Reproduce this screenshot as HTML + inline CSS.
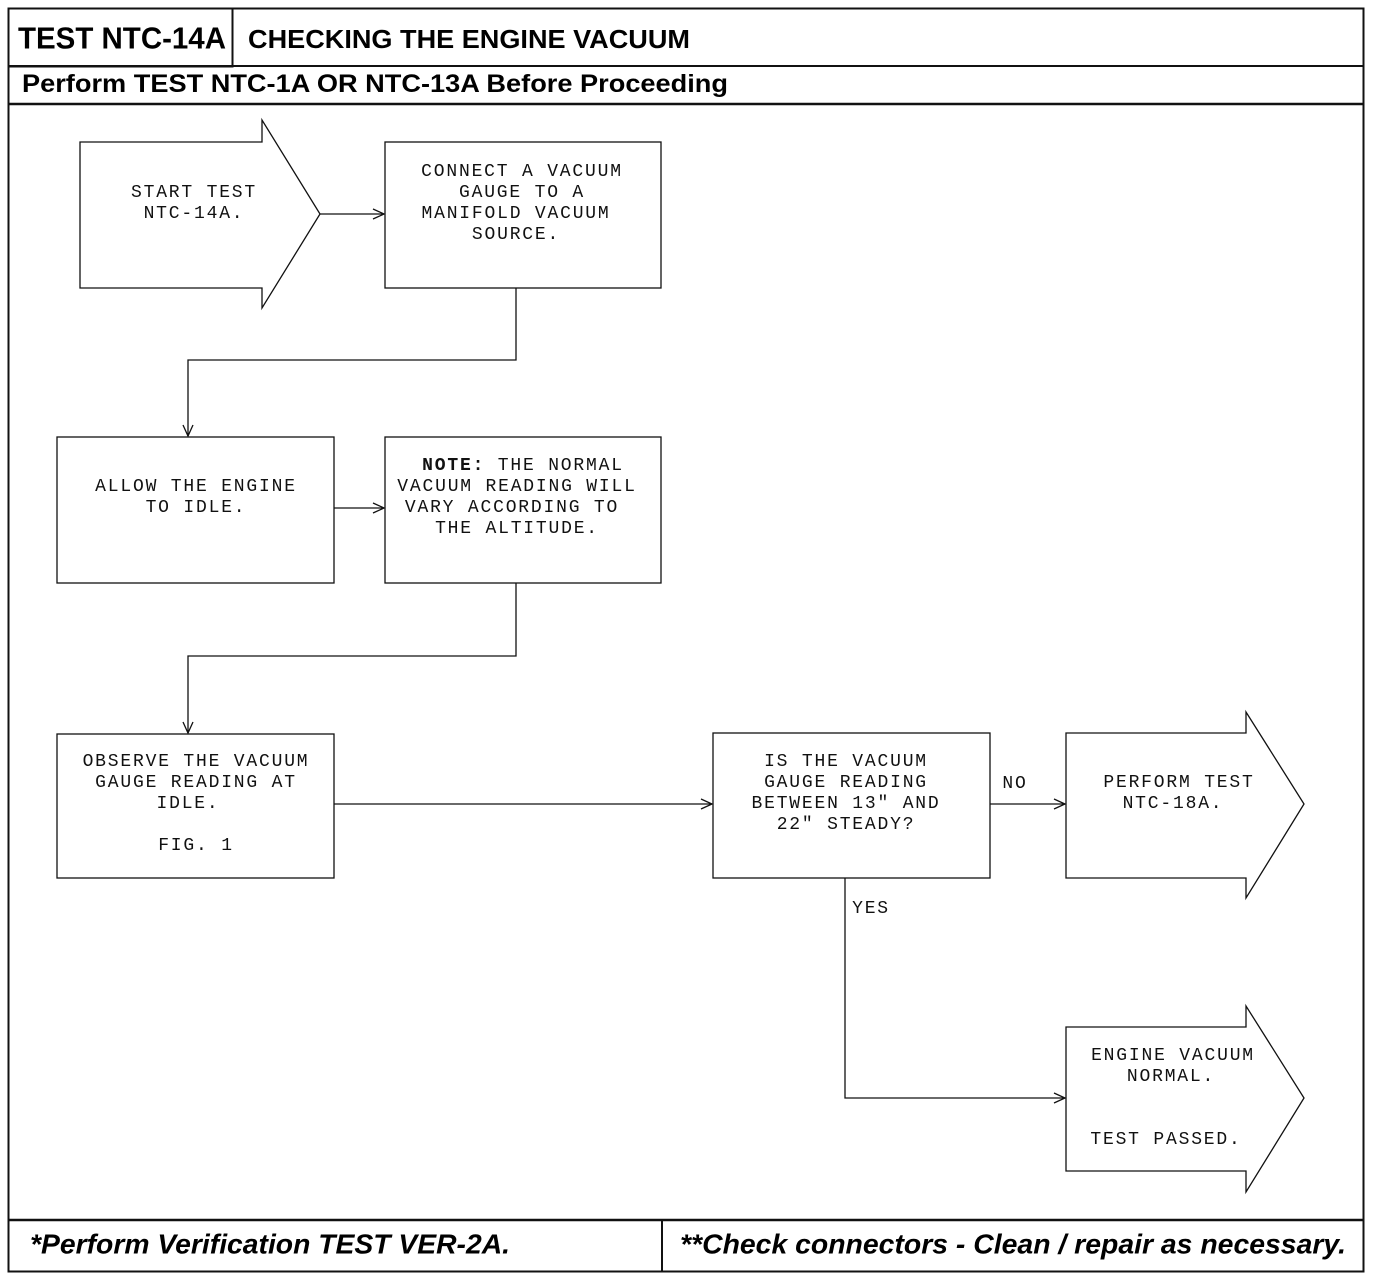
<!DOCTYPE html>
<html><head><meta charset="utf-8"><style>
html,body{margin:0;padding:0;background:#fff;}
svg{display:block}
.m{font-family:"Liberation Mono",monospace;font-size:18px;letter-spacing:1.8px;fill:#111;text-anchor:middle;dominant-baseline:central}
.h{font-family:"Liberation Sans",sans-serif;font-weight:bold;fill:#000;dominant-baseline:central}
</style></head><body>
<svg width="1376" height="1280" viewBox="0 0 1376 1280" xmlns="http://www.w3.org/2000/svg">
<defs><marker id="a" markerWidth="14" markerHeight="12" refX="12" refY="6" orient="auto" markerUnits="userSpaceOnUse"><path d="M1,1 L12,6 L1,11" fill="none" stroke="#111" stroke-width="1.3"/></marker></defs>
<g fill="none" stroke="#111">
<rect x="8.5" y="8.5" width="1355" height="1263" stroke-width="2"/>
<rect x="8.5" y="8.5" width="224" height="58" stroke-width="2"/>
<line x1="8" y1="66" x2="1364" y2="66" stroke-width="2"/>
<line x1="8" y1="104" x2="1364" y2="104" stroke-width="2.5"/>
<line x1="8" y1="1220" x2="1364" y2="1220" stroke-width="2.5"/>
<line x1="662" y1="1220" x2="662" y2="1272" stroke-width="2"/>
<g stroke-width="1.3">
<path d="M80,142 H262 V120 L320,214 L262,308 V288 H80 Z"/>
<rect x="385" y="142" width="276" height="146"/>
<rect x="57" y="437" width="277" height="146"/>
<rect x="385" y="437" width="276" height="146"/>
<rect x="57" y="734" width="277" height="144"/>
<rect x="713" y="733" width="277" height="145"/>
<path d="M1066,733 H1246 V712 L1304,804 L1246,898 V878 H1066 Z"/>
<path d="M1066,1027 H1246 V1006 L1304,1098 L1246,1192 V1171 H1066 Z"/>
<line x1="320" y1="214" x2="384" y2="214" marker-end="url(#a)"/>
<polyline points="516,288 516,360 188,360 188,436" marker-end="url(#a)"/>
<line x1="334" y1="508" x2="384" y2="508" marker-end="url(#a)"/>
<polyline points="516,583 516,656 188,656 188,733" marker-end="url(#a)"/>
<line x1="334" y1="804" x2="712" y2="804" marker-end="url(#a)"/>
<line x1="990" y1="804" x2="1065" y2="804" marker-end="url(#a)"/>
<polyline points="845,878 845,1098 1065,1098" marker-end="url(#a)"/>
</g></g>
<text class="h" x="18" y="38" font-size="31" textLength="208" lengthAdjust="spacingAndGlyphs">TEST NTC-14A</text>
<text class="h" x="248" y="39" font-size="26" textLength="442" lengthAdjust="spacingAndGlyphs">CHECKING THE ENGINE VACUUM</text>
<text class="h" x="22" y="84" font-size="25" textLength="706" lengthAdjust="spacingAndGlyphs">Perform TEST NTC-1A OR NTC-13A Before Proceeding</text>
<text class="h" x="30" y="1244" font-size="28" font-style="italic" textLength="480" lengthAdjust="spacingAndGlyphs">*Perform Verification TEST VER-2A.</text>
<text class="h" x="680" y="1244" font-size="28" font-style="italic" textLength="666" lengthAdjust="spacingAndGlyphs">**Check connectors - Clean / repair as necessary.</text>
<text class="m" x="194" y="193">START TEST</text>
<text class="m" x="194" y="214">NTC-14A.</text>
<text class="m" x="522" y="172">CONNECT A VACUUM</text>
<text class="m" x="522" y="193">GAUGE TO A</text>
<text class="m" x="516" y="214">MANIFOLD VACUUM</text>
<text class="m" x="516" y="235">SOURCE.</text>
<text class="m" x="196" y="487">ALLOW THE ENGINE</text>
<text class="m" x="196" y="508">TO IDLE.</text>
<text class="m" x="523" y="466"><tspan font-weight="bold">NOTE:</tspan> THE NORMAL</text>
<text class="m" x="517" y="487">VACUUM READING WILL</text>
<text class="m" x="512" y="508">VARY ACCORDING TO</text>
<text class="m" x="517" y="529">THE ALTITUDE.</text>
<text class="m" x="196" y="762">OBSERVE THE VACUUM</text>
<text class="m" x="196" y="783">GAUGE READING AT</text>
<text class="m" x="188" y="804">IDLE.</text>
<text class="m" x="196" y="846">FIG. 1</text>
<text class="m" x="846" y="762">IS THE VACUUM</text>
<text class="m" x="846" y="783">GAUGE READING</text>
<text class="m" x="846" y="804">BETWEEN 13" AND</text>
<text class="m" x="846" y="825">22" STEADY?</text>
<text class="m" x="1015" y="784">NO</text>
<text class="m" x="871" y="909">YES</text>
<text class="m" x="1179" y="783">PERFORM TEST</text>
<text class="m" x="1173" y="804">NTC-18A.</text>
<text class="m" x="1173" y="1056">ENGINE VACUUM</text>
<text class="m" x="1171" y="1077">NORMAL.</text>
<text class="m" x="1166" y="1140">TEST PASSED.</text>
</svg>
</body></html>
